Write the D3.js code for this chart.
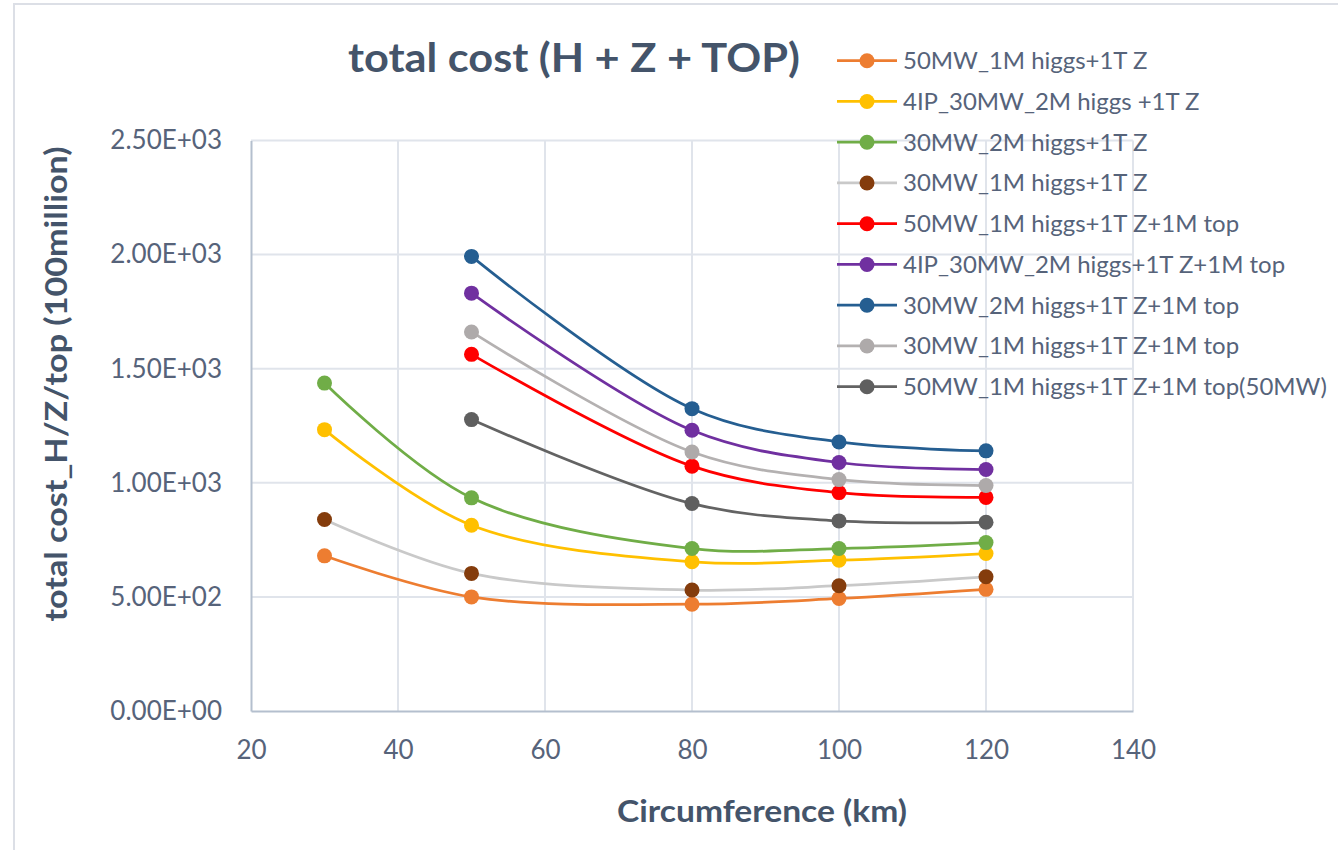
<!DOCTYPE html>
<html>
<head>
<meta charset="utf-8">
<script src="https://cdn.jsdelivr.net/npm/d3@7"></script>
<style>
  html, body { margin: 0; padding: 0; background: #ffffff; }
  svg { display: block; font-family: Lato, "Open Sans", sans-serif; }
</style>
</head>
<body>
<svg id="chart" width="1338" height="850"></svg>
<script>
// Circumference values (km)
const circumference = [30, 50, 80, 100, 120];

// Total cost per configuration (100 million), null where not computed
const s50MW_1M_Z        = [680, 500, 468, 493, 533];
const s4IP_30MW_2M_Z    = [1233, 814, 654, 661, 690];
const s30MW_2M_Z        = [1437, 934, 712, 712, 738];
const s30MW_1M_Z        = [839, 603, 530, 549, 588];
const s50MW_1M_Z_top    = [null, 1563, 1073, 957, 936];
const s4IP_30MW_2M_Z_top = [null, 1831, 1230, 1089, 1058];
const s30MW_2M_Z_top    = [null, 1992, 1325, 1179, 1140];
const s30MW_1M_Z_top    = [null, 1661, 1135, 1014, 988];
const s50MW_1M_Z_top50  = [null, 1277, 909, 833, 827];

const seriesNames = [
  "50MW_1M higgs+1T Z",
  "4IP_30MW_2M higgs +1T Z",
  "30MW_2M higgs+1T Z",
  "30MW_1M higgs+1T Z",
  "50MW_1M higgs+1T Z+1M top",
  "4IP_30MW_2M higgs+1T Z+1M top",
  "30MW_2M higgs+1T Z+1M top",
  "30MW_1M higgs+1T Z+1M top",
  "50MW_1M higgs+1T Z+1M top(50MW)"
];
const seriesValues = [
  s50MW_1M_Z, s4IP_30MW_2M_Z, s30MW_2M_Z, s30MW_1M_Z,
  s50MW_1M_Z_top, s4IP_30MW_2M_Z_top, s30MW_2M_Z_top, s30MW_1M_Z_top, s50MW_1M_Z_top50
];
const lineColors   = ["#ed7d31", "#ffc000", "#70ad47", "#c9c9c9", "#ff0000", "#7030a0", "#255e91", "#b4b1b1", "#636363"];
const markerColors = ["#ed7d31", "#ffc000", "#70ad47", "#843c0c", "#ff0000", "#7030a0", "#255e91", "#aeaaaa", "#5f5f5f"];

const xTicks = [20, 40, 60, 80, 100, 120, 140];
const yTicks = [0, 500, 1000, 1500, 2000, 2500];

const titleText = "total cost (H + Z + TOP)";
const xTitleText = "Circumference (km)";
const yTitleText = "total cost_H/Z/top (100million)";

const svg = d3.select("#chart");
const tickColor = "#56637a";
const titleColor = "#44546a";

// outer chart frame
svg.append("rect")
  .attr("x", 14).attr("y", 4).attr("width", 1400).attr("height", 900)
  .attr("fill", "none").attr("stroke", "#dcdfe6").attr("stroke-width", 2);

const x = d3.scaleLinear().domain([20, 140]).range([251, 1133]);
const y = d3.scaleLinear().domain([0, 2500]).range([711, 140.5]);

// gridlines
const grid = svg.append("g");
grid.selectAll("line.h").data(yTicks.filter(d => d > 0)).join("line")
  .attr("x1", x(20)).attr("x2", x(140))
  .attr("y1", d => y(d)).attr("y2", d => y(d))
  .attr("stroke", "#e0e4eb").attr("stroke-width", 2);
grid.selectAll("line.v").data(xTicks.filter(d => d > 20)).join("line")
  .attr("x1", d => x(d)).attr("x2", d => x(d))
  .attr("y1", y(0)).attr("y2", y(2500))
  .attr("stroke", "#e0e4eb").attr("stroke-width", 2);

// axes
const xAxis = d3.axisBottom(x).tickValues(xTicks).tickSize(0).tickPadding(0).tickFormat(d3.format("d"));
const gx = svg.append("g").attr("transform", `translate(0,${y(0)})`).call(xAxis);
gx.select(".domain").attr("stroke", "#b4bfce").attr("stroke-width", 2);
gx.selectAll("text")
  .attr("y", 48).attr("dy", 0)
  .attr("fill", tickColor).attr("font-size", 26).attr("font-family", "Lato");

const yAxis = d3.axisLeft(y).tickValues(yTicks).tickSize(0).tickPadding(29)
  .tickFormat(d => d.toExponential(2).toUpperCase().replace(/E([+-])(\d)$/, "E$10$2"));
const gy = svg.append("g").attr("transform", `translate(${x(20)},0)`).call(yAxis);
gy.select(".domain").attr("stroke", "#b4bfce").attr("stroke-width", 2);
gy.selectAll("text")
  .attr("fill", tickColor).attr("font-size", 26).attr("font-family", "Lato");

// smoothed series lines and markers
const line = d3.line()
  .x(d => x(d.c)).y(d => y(d.v))
  .curve(d3.curveCatmullRom.alpha(0.5));

const series = seriesValues.map((vals, i) => ({
  name: seriesNames[i],
  line: lineColors[i],
  marker: markerColors[i],
  points: vals.map((v, j) => ({ c: circumference[j], v })).filter(p => p.v !== null)
}));

const gs = svg.append("g").selectAll("g").data(series).join("g");
gs.append("path")
  .attr("d", d => line(d.points))
  .attr("fill", "none").attr("stroke", d => d.line).attr("stroke-width", 2.75);
gs.selectAll("circle").data(d => d.points.map(p => ({ ...p, color: d.marker })))
  .join("circle")
  .attr("cx", d => x(d.c)).attr("cy", d => y(d.v)).attr("r", 7.5)
  .attr("fill", d => d.color);

// legend
const lg = svg.append("g").selectAll("g").data(series).join("g")
  .attr("transform", (d, i) => `translate(0,${60.7 + i * 40.75})`);
lg.append("line").attr("x1", 837).attr("x2", 897).attr("y1", 0).attr("y2", 0)
  .attr("stroke", d => d.line).attr("stroke-width", 2.75);
lg.append("circle").attr("cx", 867).attr("cy", 0).attr("r", 7.5).attr("fill", d => d.marker);
const legendText = lg.append("text").attr("x", 903).attr("dy", "0.35em")
  .attr("font-size", 25).attr("fill", tickColor).text(d => d.name);

// size legend labels so the longest one fits inside the frame
const longest = d3.max(legendText.nodes(), n => n.getComputedTextLength());
const legendSize = 25 * Math.min(1, 424 / longest);
legendText.attr("font-size", legendSize);

// titles
svg.append("text").attr("x", 348).attr("y", 72)
  .attr("font-size", 40).attr("font-weight", "bold").attr("fill", titleColor)
  .attr("textLength", 452).attr("lengthAdjust", "spacingAndGlyphs")
  .text(titleText);

svg.append("text").attr("x", 762).attr("y", 822).attr("text-anchor", "middle")
  .attr("font-size", 30).attr("font-weight", "bold").attr("fill", titleColor)
  .attr("textLength", 290).attr("lengthAdjust", "spacingAndGlyphs")
  .text(xTitleText);

svg.append("text").attr("transform", "translate(67,384) rotate(-90)").attr("text-anchor", "middle")
  .attr("font-size", 30).attr("font-weight", "bold").attr("fill", titleColor)
  .attr("textLength", 475).attr("lengthAdjust", "spacingAndGlyphs")
  .text(yTitleText);
</script>
</body>
</html>
